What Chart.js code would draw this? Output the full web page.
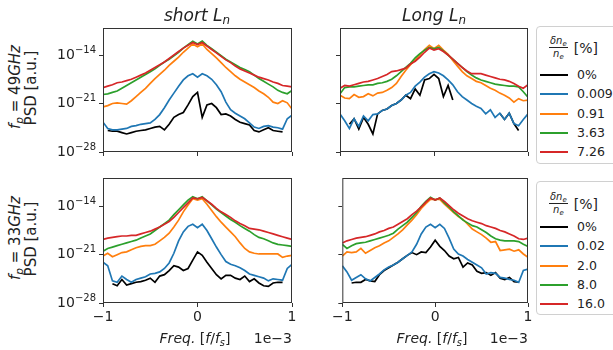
<!DOCTYPE html>
<html>
<head>
<meta charset="utf-8">
<script src="https://cdn.jsdelivr.net/npm/chart.js@4.4.1/dist/chart.umd.min.js"></script>
<style>
  html, body { margin: 0; padding: 0; background: #fff; }
  body { width: 613px; height: 350px; position: relative; overflow: hidden; font-family: 'DejaVu Sans', sans-serif; color: #222; }
  canvas { position: absolute; }
  .txt { position: absolute; white-space: nowrap; line-height: 1; z-index: 2; }
  .title { font-size: 17px; font-style: italic; transform: translate(-50%, -50%); }
  .ylab { font-size: 15px; transform: translate(-50%, -50%) rotate(-90deg); }
  .xlab { font-size: 14px; transform: translate(-50%, -50%); }
  .offset { font-size: 14px; transform: translate(-100%, -50%); }
  sub { font-size: 0.7em; vertical-align: -0.3em; line-height: 0; }
  .legend { position: absolute; left: 536px; width: 100px; background: #fff; border: 1px solid #d0d0d0; border-radius: 4px; z-index: 2; }
  .legend .head { position: absolute; left: 12px; display: flex; align-items: center; }
  .frac { display: inline-flex; flex-direction: column; align-items: center; font-size: 10px; font-style: italic; line-height: 1; }
  .frac .num { border-bottom: 1px solid #222; padding: 0 1px 1px; }
  .frac .den { padding-top: 1px; }
  .pct { font-size: 14px; margin-left: 6px; }
  .row { position: absolute; left: 3px; height: 0; }
  .row .sw { position: absolute; left: 0; top: -1px; width: 28px; height: 2px; }
  .row .lb { position: absolute; left: 37px; top: -8px; font-size: 12.5px; line-height: 16px; white-space: nowrap; }
</style>
</head>
<body>
<canvas id="c1"></canvas>
<canvas id="c2"></canvas>
<canvas id="c3"></canvas>
<canvas id="c4"></canvas>

<div class="txt title" style="left:197px; top:15px;">short <span>L<sub>n</sub></span></div>
<div class="txt title" style="left:434px; top:15px;">Long <span>L<sub>n</sub></span></div>

<div class="txt ylab" style="left:15px; top:87px;"><i>f</i><sub><i>p</i></sub> = 49<i>GHz</i></div>
<div class="txt ylab" style="left:31px; top:88px;">PSD [a.u.]</div>
<div class="txt ylab" style="left:15px; top:238px;"><i>f</i><sub><i>p</i></sub> = 33<i>GHz</i></div>
<div class="txt ylab" style="left:31px; top:239px;">PSD [a.u.]</div>

<div class="txt xlab" style="left:195px; top:338px;"><i>Freq.</i> [<i>f</i>/<i>f</i><sub><i>s</i></sub>]</div>
<div class="txt offset" style="left:292px; top:338px;">1e−3</div>
<div class="txt xlab" style="left:432px; top:338px;"><i>Freq.</i> [<i>f</i>/<i>f</i><sub><i>s</i></sub>]</div>
<div class="txt offset" style="left:528px; top:338px;">1e−3</div>

<div class="legend" id="leg1" style="top:26px; height:136px;"></div>
<div class="legend" id="leg2" style="top:181px; height:132px;"></div>

<script>
// frequency axis, units of 1e-3 f/fs
const freq = [-1, -0.95, -0.9, -0.85, -0.8, -0.75, -0.7, -0.65, -0.6, -0.55, -0.5, -0.45, -0.4, -0.35, -0.3, -0.25, -0.2, -0.15, -0.1, -0.05,
  0, 0.05, 0.1, 0.15, 0.2, 0.25, 0.3, 0.35, 0.4, 0.45, 0.5, 0.55, 0.6, 0.65, 0.7, 0.75, 0.8, 0.85, 0.9, 0.95, 1];

const xTicks = [-1, 0, 1];
const yTickExp = [-28, -21, -14];

const legend49 = ['0%', '0.009', '0.91', '3.63', '7.26'];
const legend33 = ['0%', '0.02', '2.0', '8.0', '16.0'];

// all series are log10(PSD)
const short49Black = [null, -24.9, -25.0, -25.0, -25.2, -25.4, -25.2, -25.0, -24.9, -24.8, -24.6, -24.4, -24.3, -24.8, -24.0, -23.0, -22.6, -22.3, -21.2, -20.0,
  -19.4, -23.0, -21.2, -21.0, -21.6, -22.6, -22.5, -22.8, -23.3, -23.7, -23.9, -24.1, -24.9, -25.1, -24.8, -24.5, -24.9, -25.0, -25.1, null, null];
const short49Blue = [-23.7, -24.6, -24.8, -24.8, -24.7, -24.6, -24.3, -24.2, -24.0, -23.9, -23.8, -23.3, -22.6, -21.6, -20.5, -19.5, -18.5, -17.6, -17.0, -16.7,
  -17.2, -16.7, -17.0, -17.5, -18.3, -19.3, -20.8, -21.9, -22.4, -22.8, -23.2, -23.8, -24.4, -24.6, -24.3, -24.2, -24.4, -24.5, -24.7, -23.2, -22.7];
const short49Orange = [-21.5, -21.3, -21.0, -20.9, -21.0, -21.1, -20.6, -20.0, -19.4, -18.8, -18.1, -17.4, -16.8, -16.2, -15.5, -14.9, -14.3, -13.6, -13.0, -12.4,
  -12.8, -12.4, -13.2, -13.8, -14.4, -15.1, -15.8, -16.4, -17.0, -17.5, -17.9, -18.3, -18.7, -19.2, -19.6, -20.1, -20.8, -21.0, -20.6, -20.9, -21.8];
const short49Green = [-19.7, -19.6, -19.4, -19.2, -18.8, -18.4, -18.0, -17.6, -17.2, -16.8, -16.4, -16.0, -15.5, -15.0, -14.6, -14.1, -13.6, -13.0, -12.5, -12.0,
  -12.4, -12.0, -12.6, -13.1, -13.6, -14.1, -14.6, -15.0, -15.4, -15.8, -16.1, -16.4, -16.9, -17.4, -17.8, -18.2, -18.6, -19.1, -19.4, -19.6, -19.1];
const short49Red = [-18.7, -18.5, -18.3, -18.0, -17.9, -17.7, -17.5, -17.2, -16.9, -16.6, -16.2, -15.8, -15.4, -15.0, -14.5, -14.0, -13.5, -13.0, -12.6, -12.2,
  -12.5, -12.2, -12.7, -13.2, -13.7, -14.2, -14.7, -15.1, -15.6, -16.0, -16.3, -16.6, -16.9, -17.2, -17.4, -17.6, -17.9, -18.1, -18.4, -18.5, -18.6];

const long49Black = [null, null, -24.0, -23.2, -24.7, -23.0, -24.0, -25.4, -22.5, -22.0, -21.8, -21.3, -21.0, -20.5, -19.8, -20.3, -18.9, -19.8, -17.6, -17.4,
  -16.8, -17.4, -20.0, -18.4, -20.5, null, null, null, null, null, null, null, null, null, -22.4, -23.3, -22.4, -23.9, -24.9, null, null];
const long49Blue = [-22.5, -23.5, -24.6, -23.2, -24.3, -22.8, -23.5, -22.6, -22.5, -22.0, -21.8, -21.3, -21.0, -20.5, -19.8, -19.4, -18.5, -17.9, -17.2, -16.7,
  -16.4, -16.6, -17.0, -17.6, -18.3, -19.3, -20.0, -20.5, -21.0, -21.4, -21.7, -22.5, -21.9, -23.0, -22.4, -23.3, -22.4, -23.9, -24.2, -23.3, -22.5];
const long49Orange = [-19.8, -20.2, -20.3, -19.7, -20.1, -20.0, -19.6, -19.9, -19.5, -19.4, -19.1, -18.7, -18.1, -17.1, -16.2, -15.4, -14.7, -14.0, -13.2, -12.6,
  -13.1, -12.6, -13.3, -13.9, -14.8, -15.6, -16.4, -17.0, -17.4, -17.8, -18.0, -18.4, -18.8, -19.1, -19.5, -19.8, -20.2, -20.8, -20.3, -20.6, -20.5];
const long49Green = [-19.6, -18.7, -18.6, -18.6, -18.5, -18.4, -18.3, -18.3, -18.1, -18.0, -17.8, -17.5, -17.0, -16.4, -15.8, -15.2, -14.4, -13.8, -13.3, -12.9,
  -13.1, -12.9, -13.4, -14.0, -14.6, -15.2, -15.8, -16.4, -16.9, -17.3, -17.6, -17.8, -18.0, -18.2, -18.3, -18.4, -18.5, -18.5, -18.6, -19.3, -20.1];
const long49Red = [-18.8, -18.4, -18.5, -18.3, -18.1, -17.9, -17.8, -17.6, -17.4, -17.1, -16.8, -16.4, -16.3, -16.1, -15.9, -15.3, -14.9, -14.3, -13.6, -13.0,
  -13.3, -13.1, -13.5, -14.0, -14.6, -15.2, -15.8, -16.3, -16.7, -16.7, -16.7, -16.9, -17.1, -17.3, -17.5, -17.6, -17.8, -18.1, -18.5, -18.8, -18.3];

const short33Black = [null, null, -25.2, -25.5, -24.6, -25.4, -25.2, -25.0, -24.9, -24.7, -24.4, -25.0, -24.1, -23.9, -23.3, -22.6, -22.8, -23.3, -23.0, -21.8,
  -20.6, -21.1, -22.1, -23.0, -23.9, -24.5, -24.0, -24.0, -24.4, -24.6, -24.1, -24.9, -24.5, -25.1, -25.5, -25.6, -25.1, -25.0, -25.0, null, null];
const short33Blue = [-22.1, -22.6, -24.8, -25.0, -24.1, -24.6, -25.0, -24.6, -24.4, -24.2, -23.8, -23.7, -23.5, -23.0, -22.2, -20.8, -19.0, -17.7, -16.9, -16.6,
  -17.1, -16.6, -17.5, -18.7, -19.9, -21.0, -22.0, -22.4, -22.6, -22.9, -23.3, -23.8, -24.0, -24.2, -24.4, -24.8, -24.5, -24.6, -24.7, -23.0, -22.4];
const short33Orange = [-21.2, -20.8, -21.3, -21.0, -20.7, -20.6, -20.3, -20.0, -19.8, -19.7, -19.7, -19.5, -19.0, -18.5, -17.9, -17.0, -16.0, -14.8, -13.8, -12.9,
  -13.1, -12.9, -13.7, -14.6, -15.5, -16.3, -17.0, -17.7, -18.4, -19.3, -20.1, -20.6, -20.8, -20.9, -20.9, -20.9, -20.9, -20.9, -21.4, -21.2, -21.1];
const short33Green = [-20.5, -20.1, -19.9, -19.7, -19.5, -19.3, -19.1, -18.9, -18.6, -18.3, -18.0, -17.5, -17.0, -16.5, -16.0, -15.2, -14.5, -13.8, -13.1, -12.6,
  -12.9, -12.6, -13.2, -13.8, -14.4, -14.9, -15.4, -15.9, -16.3, -16.8, -17.2, -17.6, -18.1, -18.5, -18.7, -19.0, -19.3, -19.5, -19.6, -19.7, -19.8];
const short33Red = [-18.8, -18.6, -18.5, -18.4, -18.3, -18.3, -18.2, -18.2, -18.0, -17.8, -17.6, -17.3, -17.0, -16.6, -16.2, -15.6, -14.9, -14.2, -13.5, -12.8,
  -12.9, -12.7, -13.2, -13.7, -14.3, -14.8, -15.2, -15.6, -16.1, -16.5, -16.8, -17.2, -17.3, -17.4, -17.6, -17.8, -18.0, -18.2, -18.4, -18.6, -18.8];

const long33Black = [null, null, -25.1, -25.0, -25.0, -24.6, -24.8, -24.9, -23.9, -23.3, -22.9, -22.5, -22.1, -21.6, -21.1, -20.7, -21.0, -20.6, -20.7, -19.9,
  -18.9, -19.8, -20.4, -21.2, -21.6, -21.4, -22.8, -22.2, -22.5, -23.4, -23.7, -23.6, -24.0, -23.6, -24.4, -24.6, -24.3, -24.9, -25.0, null, null];
const long33Blue = [-22.6, -23.5, -24.7, -24.3, -23.9, -24.5, -24.8, -24.3, -23.8, -23.2, -22.8, -22.5, -22.1, -21.6, -21.1, -20.6, -19.5, -18.0, -17.0, -16.6,
  -17.1, -16.6, -17.2, -18.6, -20.2, -20.9, -21.2, -21.7, -22.1, -22.5, -22.9, -23.8, -23.6, -23.7, -24.3, -24.4, -24.6, -24.7, -25.0, -23.3, -23.1];
const long33Orange = [-21.2, -20.6, -20.7, -20.6, -20.1, -20.8, -20.4, -20.0, -19.7, -19.3, -19.0, -18.5, -18.0, -17.4, -16.7, -16.0, -15.2, -14.3, -13.6, -13.0,
  -13.0, -13.0, -13.7, -14.3, -14.9, -15.5, -15.9, -16.6, -17.3, -17.7, -18.1, -18.6, -19.2, -19.1, -20.4, -20.3, -20.2, -20.5, -20.3, -20.9, -21.4];
const long33Green = [-19.5, -20.1, -19.7, -19.4, -19.3, -19.2, -19.0, -18.8, -18.6, -18.4, -18.2, -17.9, -17.3, -16.8, -16.3, -15.6, -14.9, -14.0, -13.3, -12.7,
  -13.1, -12.8, -13.5, -14.1, -14.8, -15.4, -16.0, -16.4, -16.8, -17.0, -17.4, -17.8, -18.3, -18.7, -18.9, -19.0, -19.0, -19.0, -19.1, -19.5, -19.8];
const long33Red = [-19.3, -19.0, -18.8, -18.6, -18.5, -18.4, -18.2, -18.0, -17.7, -17.5, -17.2, -17.0, -16.6, -16.2, -15.8, -15.2, -14.7, -14.1, -13.4, -12.8,
  -13.1, -12.8, -13.3, -13.9, -14.5, -15.0, -15.4, -15.8, -16.1, -16.3, -16.5, -16.8, -17.0, -17.2, -17.5, -17.7, -18.0, -18.3, -18.7, -18.8, -18.6];

const colors = ['#000000', '#1f77b4', '#ff7f0e', '#2ca02c', '#d62728'];
const ink = '#222222';

Chart.defaults.font.family = "'DejaVu Sans', sans-serif";
Chart.defaults.color = ink;

// frame round the plot area, like matplotlib spines
const frame = {
  id: 'frame',
  afterDatasetsDraw(chart) {
    const { ctx, chartArea: a } = chart;
    ctx.save();
    ctx.strokeStyle = '#333';
    ctx.lineWidth = 1;
    ctx.strokeRect(a.left + 0.5, a.top + 0.5, a.width - 1, a.height - 1);
    ctx.restore();
  }
};

// 10^n tick labels with a raised exponent
const powerLabels = {
  id: 'powerLabels',
  afterDraw(chart, args, opts) {
    if (!opts.show) return;
    const { ctx, chartArea } = chart;
    const y = chart.scales.y;
    const right = chartArea.left - 7;
    ctx.save();
    ctx.fillStyle = ink;
    ctx.textAlign = 'right';
    ctx.textBaseline = 'middle';
    y.ticks.forEach((t) => {
      const py = y.getPixelForValue(t.value);
      const exp = '\u2212' + Math.abs(Math.round(Math.log10(t.value)));
      ctx.font = "10px 'DejaVu Sans'";
      const w = ctx.measureText(exp).width;
      ctx.fillText(exp, right, py - 5);
      ctx.font = "14px 'DejaVu Sans'";
      ctx.fillText('10', right - w, py);
    });
    ctx.restore();
  }
};

function makePanel(id, box, series, opts) {
  const axisW = opts.yLabels ? 62 : 10;
  const axisH = opts.xLabels ? 30 : 8;
  const padTop = 6;
  const padRight = 12;
  const width = box.right - box.left + axisW + padRight;
  const height = box.bottom - box.top + padTop + axisH;

  const canvas = document.getElementById(id);
  canvas.width = width;
  canvas.height = height;
  canvas.style.left = box.left - axisW + 'px';
  canvas.style.top = box.top - padTop + 'px';
  canvas.style.width = width + 'px';
  canvas.style.height = height + 'px';

  const datasets = series.map((values, i) => ({
    data: freq.map((x, j) => ({ x, y: values[j] == null ? null : 10 ** values[j] })),
    borderColor: colors[i],
    borderWidth: 1.7,
    pointRadius: 0,
    tension: 0,
    fill: false,
    order: series.length - 1 - i
  }));

  return new Chart(canvas, {
    type: 'line',
    data: { datasets },
    options: {
      responsive: false,
      animation: false,
      devicePixelRatio: 1,
      layout: { padding: { top: padTop, right: padRight, left: 0, bottom: 0 } },
      plugins: {
        legend: { display: false },
        tooltip: { enabled: false },
        powerLabels: { show: opts.yLabels }
      },
      scales: {
        x: {
          type: 'linear',
          min: -1,
          max: 1,
          afterBuildTicks: (s) => { s.ticks = xTicks.map((v) => ({ value: v })); },
          afterFit: (s) => { s.height = axisH; },
          grid: { display: true, drawOnChartArea: false, drawTicks: true, tickLength: 4, color: '#333', lineWidth: 1 },
          border: { display: false },
          ticks: {
            display: opts.xLabels,
            padding: 2,
            font: { size: 14 },
            color: ink,
            maxRotation: 0,
            callback: (v) => (v < 0 ? '\u2212' + Math.abs(v) : String(v))
          }
        },
        y: {
          type: 'logarithmic',
          min: 1e-28,
          max: 10 ** opts.yTop,
          afterBuildTicks: (s) => { s.ticks = yTickExp.map((e) => ({ value: 10 ** e })); },
          afterFit: (s) => { s.width = axisW; },
          grid: { display: true, drawOnChartArea: false, drawTicks: true, tickLength: 4, color: '#333', lineWidth: 1 },
          border: { display: false },
          ticks: { display: false }
        }
      }
    },
    plugins: [frame, powerLabels]
  });
}

makePanel('c1', { left: 103, top: 28, right: 292, bottom: 152 },
  [short49Black, short49Blue, short49Orange, short49Green, short49Red], { yLabels: true, xLabels: false, yTop: -10.1 });
makePanel('c2', { left: 340, top: 28, right: 528, bottom: 152 },
  [long49Black, long49Blue, long49Orange, long49Green, long49Red], { yLabels: false, xLabels: false, yTop: -10.1 });
makePanel('c3', { left: 103, top: 178, right: 292, bottom: 303 },
  [short33Black, short33Blue, short33Orange, short33Green, short33Red], { yLabels: true, xLabels: true, yTop: -9.9 });
makePanel('c4', { left: 340, top: 178, right: 528, bottom: 303 },
  [long33Black, long33Blue, long33Orange, long33Green, long33Red], { yLabels: false, xLabels: true, yTop: -9.9 });

function buildLegend(el, labels, headY, firstRow) {
  const head = `
    <div class="head" style="top:${headY}px;">
      <span class="frac"><span class="num">δn<sub>e</sub></span><span class="den">n<sub>e</sub></span></span>
      <span class="pct">[%]</span>
    </div>`;
  const rows = labels
    .map(
      (label, i) => `
        <div class="row" style="top:${firstRow + i * 19.3}px;">
          <span class="sw" style="background:${colors[i]};"></span>
          <span class="lb">${label}</span>
        </div>`
    )
    .join('');
  el.innerHTML = head + rows;
}

buildLegend(document.getElementById('leg1'), legend49, 9, 48);
buildLegend(document.getElementById('leg2'), legend33, 10, 45);
</script>
</body>
</html>
